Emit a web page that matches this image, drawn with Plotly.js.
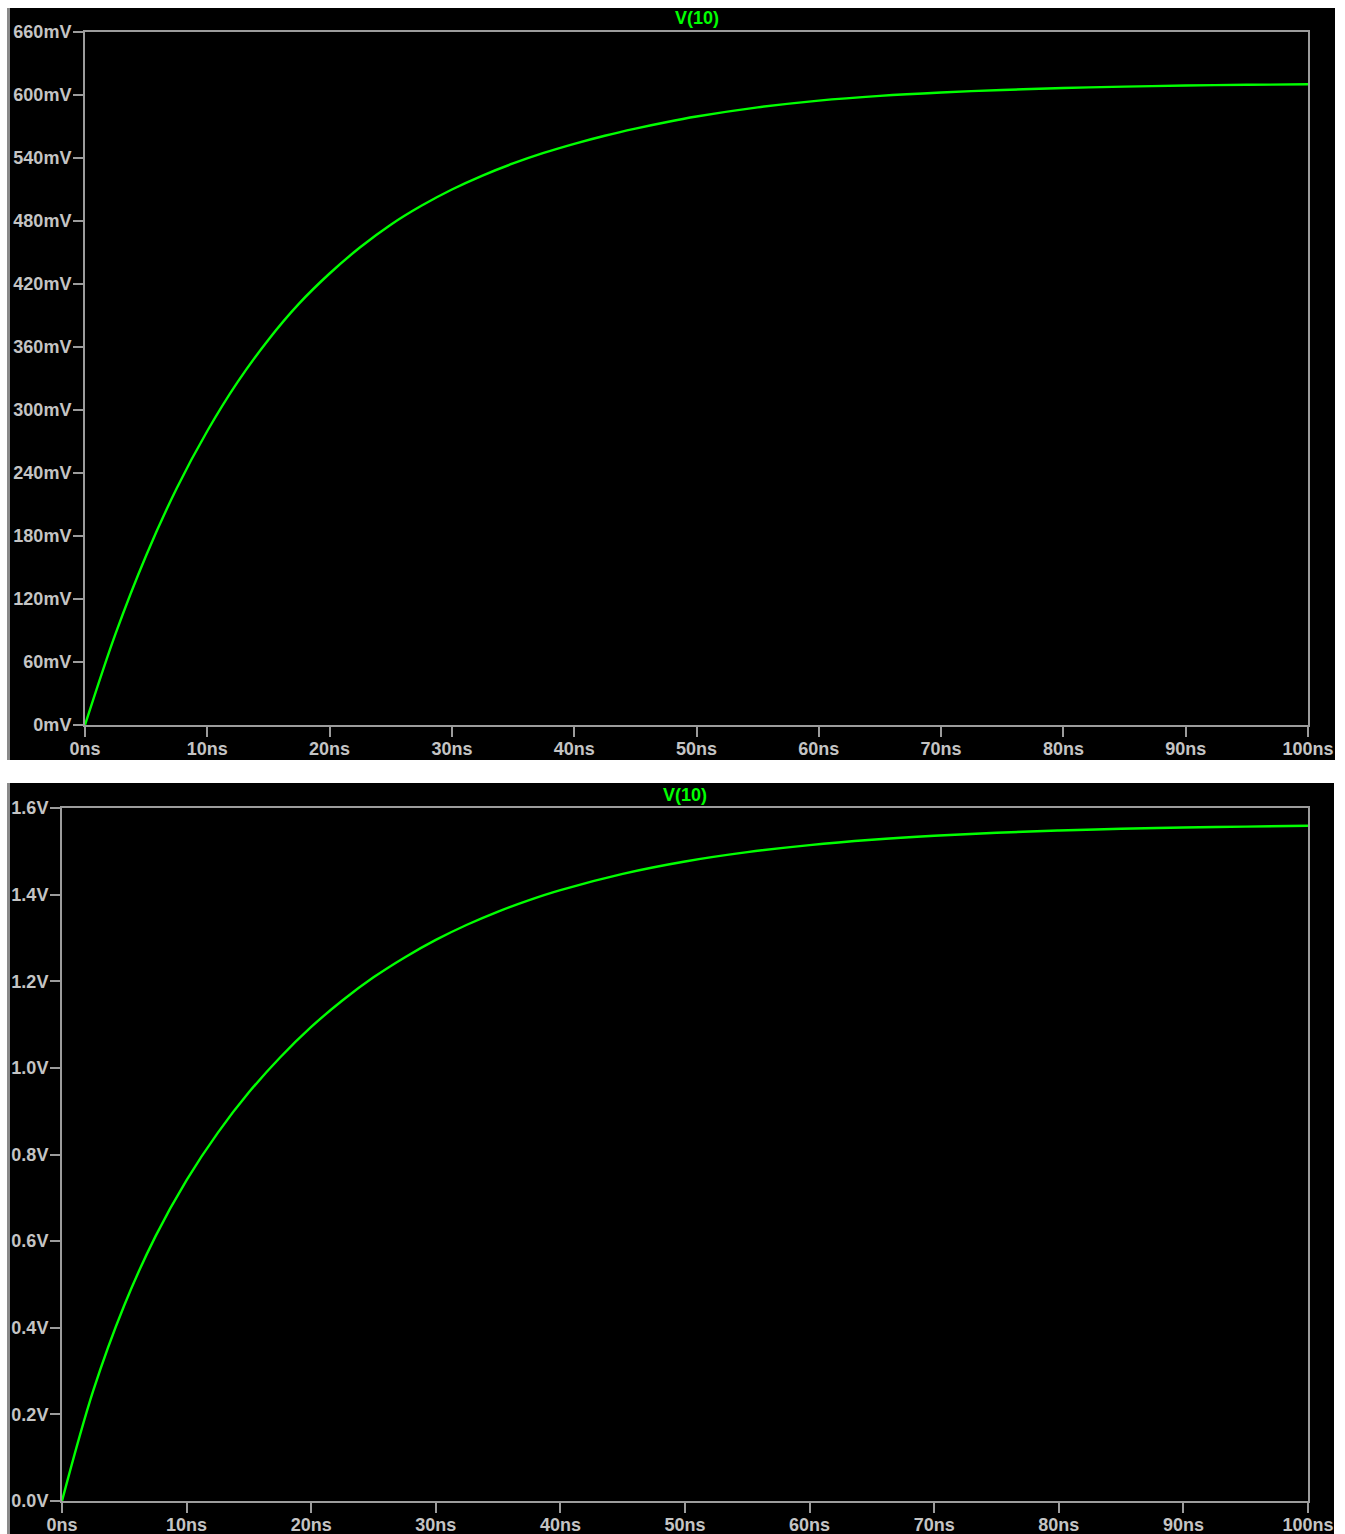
<!DOCTYPE html>
<html>
<head>
<meta charset="utf-8">
<script src="https://cdn.plot.ly/plotly-3.0.1.min.js"></script>
<style>html,body{margin:0;padding:0;background:#fff;}#chart{width:1345px;height:1534px;}</style>
</head>
<body>
<div id="chart"></div>
<script>
// ---- Data ----
const traceName = "V(10)";

// Top panel: time (ns) and V(10) in mV
const timeTop = [0, 2.5, 5, 7.5, 10, 12.5, 15, 17.5, 20, 22.5, 25, 27.5, 30, 32.5, 35, 37.5, 40, 42.5, 45, 47.5, 50, 55, 60, 65, 70, 75, 80, 85, 90, 95, 100];
const vTop_mV = [0, 87, 161.5, 225.5, 280, 327, 367, 401.3, 430, 455, 476.5, 494.5, 510, 523.3, 534.8, 544.8, 553.5, 561.2, 568, 574.1, 579.5, 588.2, 594.7, 599.2, 602.4, 604.8, 606.6, 608, 609, 609.7, 610.2];

// Bottom panel: time (ns) and V(10) in V
const timeBot = [0, 2.5, 5, 7.5, 10, 12.5, 15, 17.5, 20, 22.5, 25, 27.5, 30, 32.5, 35, 37.5, 40, 45, 50, 55, 60, 65, 70, 75, 80, 85, 90, 95, 100];
const vBot_V = [0, 0.254, 0.452, 0.611, 0.741, 0.85, 0.9435, 1.024, 1.0945, 1.1555, 1.209, 1.255, 1.2955, 1.3305, 1.361, 1.3875, 1.4105, 1.448, 1.4765, 1.498, 1.5144, 1.5267, 1.536, 1.543, 1.548, 1.552, 1.555, 1.557, 1.559];

// Tick labels
const xTickVals = [0, 10, 20, 30, 40, 50, 60, 70, 80, 90, 100];
const xTickText = ["0ns", "10ns", "20ns", "30ns", "40ns", "50ns", "60ns", "70ns", "80ns", "90ns", "100ns"];
const yTopTickVals = [0, 60, 120, 180, 240, 300, 360, 420, 480, 540, 600, 660];
const yTopTickText = ["0mV", "60mV", "120mV", "180mV", "240mV", "300mV", "360mV", "420mV", "480mV", "540mV", "600mV", "660mV"];
const yBotTickVals = [0, 0.2, 0.4, 0.6, 0.8, 1.0, 1.2, 1.4, 1.6];
const yBotTickText = ["0.0V", "0.2V", "0.4V", "0.6V", "0.8V", "1.0V", "1.2V", "1.4V", "1.6V"];

// ---- Layout helpers ----
const W = 1345, H = 1534;
const px = v => v / W;
const py = v => 1 - v / H;

const green = "#00ff00";
const axisGray = "#9c9c9c";
const labelGray = "#c4c4c4";
const tickFont = {family: "Liberation Sans, Arial, sans-serif", size: 18, color: labelGray, weight: "bold"};

const traces = [
  {x: timeTop, y: vTop_mV, xaxis: "x", yaxis: "y", type: "scatter", mode: "lines",
   line: {color: green, width: 2.4, shape: "spline", smoothing: 1}, name: traceName, hoverinfo: "skip"},
  {x: timeBot, y: vBot_V, xaxis: "x2", yaxis: "y2", type: "scatter", mode: "lines",
   line: {color: green, width: 2.4, shape: "spline", smoothing: 1}, name: traceName, hoverinfo: "skip"}
];

function xAxis(domain, anchor) {
  return {domain: domain, anchor: anchor, range: [0, 100], tickmode: "array", tickvals: xTickVals, ticktext: xTickText,
    showline: true, mirror: true, linecolor: axisGray, linewidth: 2, ticks: "outside", ticklen: 10, tickwidth: 2,
    tickcolor: axisGray, showgrid: false, zeroline: false, tickfont: tickFont, ticklabelstandoff: -4, fixedrange: true};
}
function yAxis(domain, anchor, range, vals, text) {
  return {domain: domain, anchor: anchor, range: range, tickmode: "array", tickvals: vals, ticktext: text,
    showline: true, mirror: true, linecolor: axisGray, linewidth: 2, ticks: "outside", ticklen: 10, tickwidth: 2,
    tickcolor: axisGray, showgrid: false, zeroline: false, tickfont: tickFont, ticklabelstandoff: -2, fixedrange: true};
}

const layout = {
  width: W, height: H,
  margin: {l: 0, r: 0, t: 0, b: 0, pad: 0},
  paper_bgcolor: "#ffffff",
  plot_bgcolor: "#000000",
  showlegend: false,
  xaxis: xAxis([px(85), px(1308)], "y"),
  yaxis: yAxis([py(725), py(32)], "x", [0, 660], yTopTickVals, yTopTickText),
  xaxis2: xAxis([px(62), px(1308)], "y2"),
  yaxis2: yAxis([py(1501), py(808)], "x2", [0, 1.6], yBotTickVals, yBotTickText),
  shapes: [
    {type: "rect", xref: "paper", yref: "paper", x0: px(7), x1: px(1335), y0: py(760), y1: py(8), fillcolor: "#000000", line: {width: 0}, layer: "below"},
    {type: "rect", xref: "paper", yref: "paper", x0: px(7), x1: px(1334), y0: 0, y1: py(783), fillcolor: "#000000", line: {width: 0}, layer: "below"},
    {type: "rect", xref: "paper", yref: "paper", x0: px(7), x1: px(10), y0: py(760), y1: py(8), fillcolor: "#8a8a8a", line: {width: 0}, layer: "below"},
    {type: "rect", xref: "paper", yref: "paper", x0: px(7), x1: px(10), y0: 0, y1: py(783), fillcolor: "#8a8a8a", line: {width: 0}, layer: "below"}
  ],
  annotations: [
    {text: traceName, xref: "paper", yref: "paper", x: px(696.5), y: py(18), xanchor: "center", yanchor: "middle", showarrow: false,
     font: {family: "Liberation Sans, Arial, sans-serif", size: 18, color: green, weight: "bold"}},
    {text: traceName, xref: "paper", yref: "paper", x: px(685), y: py(795), xanchor: "center", yanchor: "middle", showarrow: false,
     font: {family: "Liberation Sans, Arial, sans-serif", size: 18, color: green, weight: "bold"}}
  ]
};

Plotly.newPlot("chart", traces, layout, {staticPlot: true, displayModeBar: false});
</script>
</body>
</html>
